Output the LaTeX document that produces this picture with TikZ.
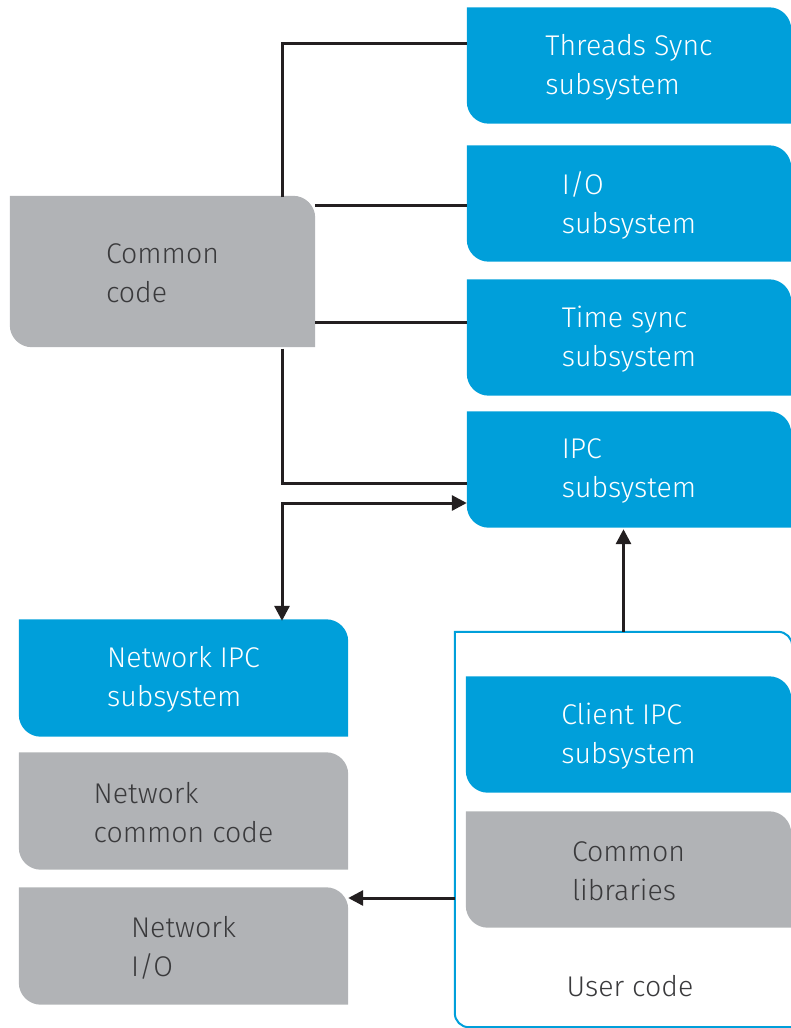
\documentclass[tikz,border=0pt]{standalone}
\usepackage{fontspec}
\setmainfont{Fira Sans}[UprightFont={* Light}]
\usetikzlibrary{arrows.meta}
\pgfdeclarelayer{background}
\pgfsetlayers{background,main}

\definecolor{hpblue}{HTML}{009FDA}
\definecolor{hpgray}{HTML}{B1B3B6}
\definecolor{hptext}{HTML}{3A3A3C}
\definecolor{hpline}{HTML}{231F20}

\tikzset{
  block/.style={minimum width=324pt, minimum height=116pt, align=left, inner sep=0pt,
    font=\fontsize{28.5}{39}\selectfont},
  blueblock/.style={block, text=white},
  grayblock/.style={block, text=hptext},
  link/.style={line width=3pt, draw=hpline},
  arrow/.style={link, -{Triangle[length=15pt,width=15pt]}},
  biarrow/.style={link, {Triangle[length=15pt,width=15pt]}-{Triangle[length=15pt,width=15pt]}},
}

\begin{document}
\begin{tikzpicture}[x=1pt, y=-1pt]

        \useasboundingbox (0,0) rectangle (791,1028);

        % Subsystems on the right
        \node[blueblock] (threads) at (629,67) {Threads Sync\\subsystem};
        \node[blueblock] (io) at (629,205) {I/O\\subsystem};
        \node[blueblock] (timesync) at (629,339) {Time sync\\subsystem};
        \node[blueblock] (ipc) at (629,471) {IPC\\subsystem};

        % Common code
        \node[grayblock, minimum width=305pt, minimum height=151pt] (common) at (162.5,273) {Common\\code};

        % Network side
        \node[blueblock, minimum width=329pt, minimum height=117pt] (netipc) at (183.5,679.5) {Network IPC\\subsystem};
        \node[grayblock, minimum width=329pt, minimum height=117pt] (netcommon) at (183.5,812.5) {Network\\common code};
        \node[grayblock, minimum width=329pt, minimum height=117pt] (netio) at (183.5,947.5) {Network\\I/O};

        % User code
        \node[minimum width=337pt, minimum height=395pt, inner sep=0pt] (user) at (623.5,829.5) {};
        \node[blueblock, minimum width=325pt] (clientipc) at (628.5,736) {Client IPC\\subsystem};
        \node[grayblock, minimum width=325pt] (libs) at (628.5,871) {Common\\libraries};
        \node[font=\fontsize{28.5}{39}\selectfont, text=hptext] (usertext) at (630,986) {User code};

        % Box shapes
        \begin{pgfonlayer}{background}
          \draw[hpblue, line width=2pt] (user.north west) -- ([xshift=-14pt]user.north east)
            arc[start angle=90, end angle=0, radius=14pt] -- (user.south east)
            -- ([xshift=14pt]user.south west) arc[start angle=270, end angle=180, radius=14pt] -- cycle;
          \foreach \n/\c in {threads/hpblue, io/hpblue, timesync/hpblue, ipc/hpblue,
                             common/hpgray, netipc/hpblue, netcommon/hpgray, netio/hpgray,
                             clientipc/hpblue, libs/hpgray}
            \fill[\c] ([yshift=1.5pt]\n.north west) -- ([xshift=-22pt,yshift=1.5pt]\n.north east)
              arc[start angle=90, end angle=0, radius=22pt] -- ([yshift=1.5pt]\n.south east)
              -- ([xshift=22pt,yshift=1.5pt]\n.south west) arc[start angle=270, end angle=180, radius=22pt] -- cycle;
        \end{pgfonlayer}

        % Connectors
        \coordinate (bus) at (282,0);
        \draw[link] (common.north -| bus) |- ([yshift=24pt]threads.west);
        \draw[link] (io.west -| common.east) -- (io.west);
        \draw[link] ([yshift=17pt]timesync.west -| common.east) -- ([yshift=17pt]timesync.west);
        \draw[link] (common.south -| bus) |- ([yshift=-12pt]ipc.west);
        \draw[biarrow] ([yshift=-32pt]ipc.west) -| (netipc.north -| bus);
        \draw[arrow] (user.north) -- (user.north |- ipc.south);
        \draw[arrow] ([yshift=49.5pt]netio.east -| user.west) -- ([yshift=49.5pt]netio.east);

\end{tikzpicture}
\end{document}
